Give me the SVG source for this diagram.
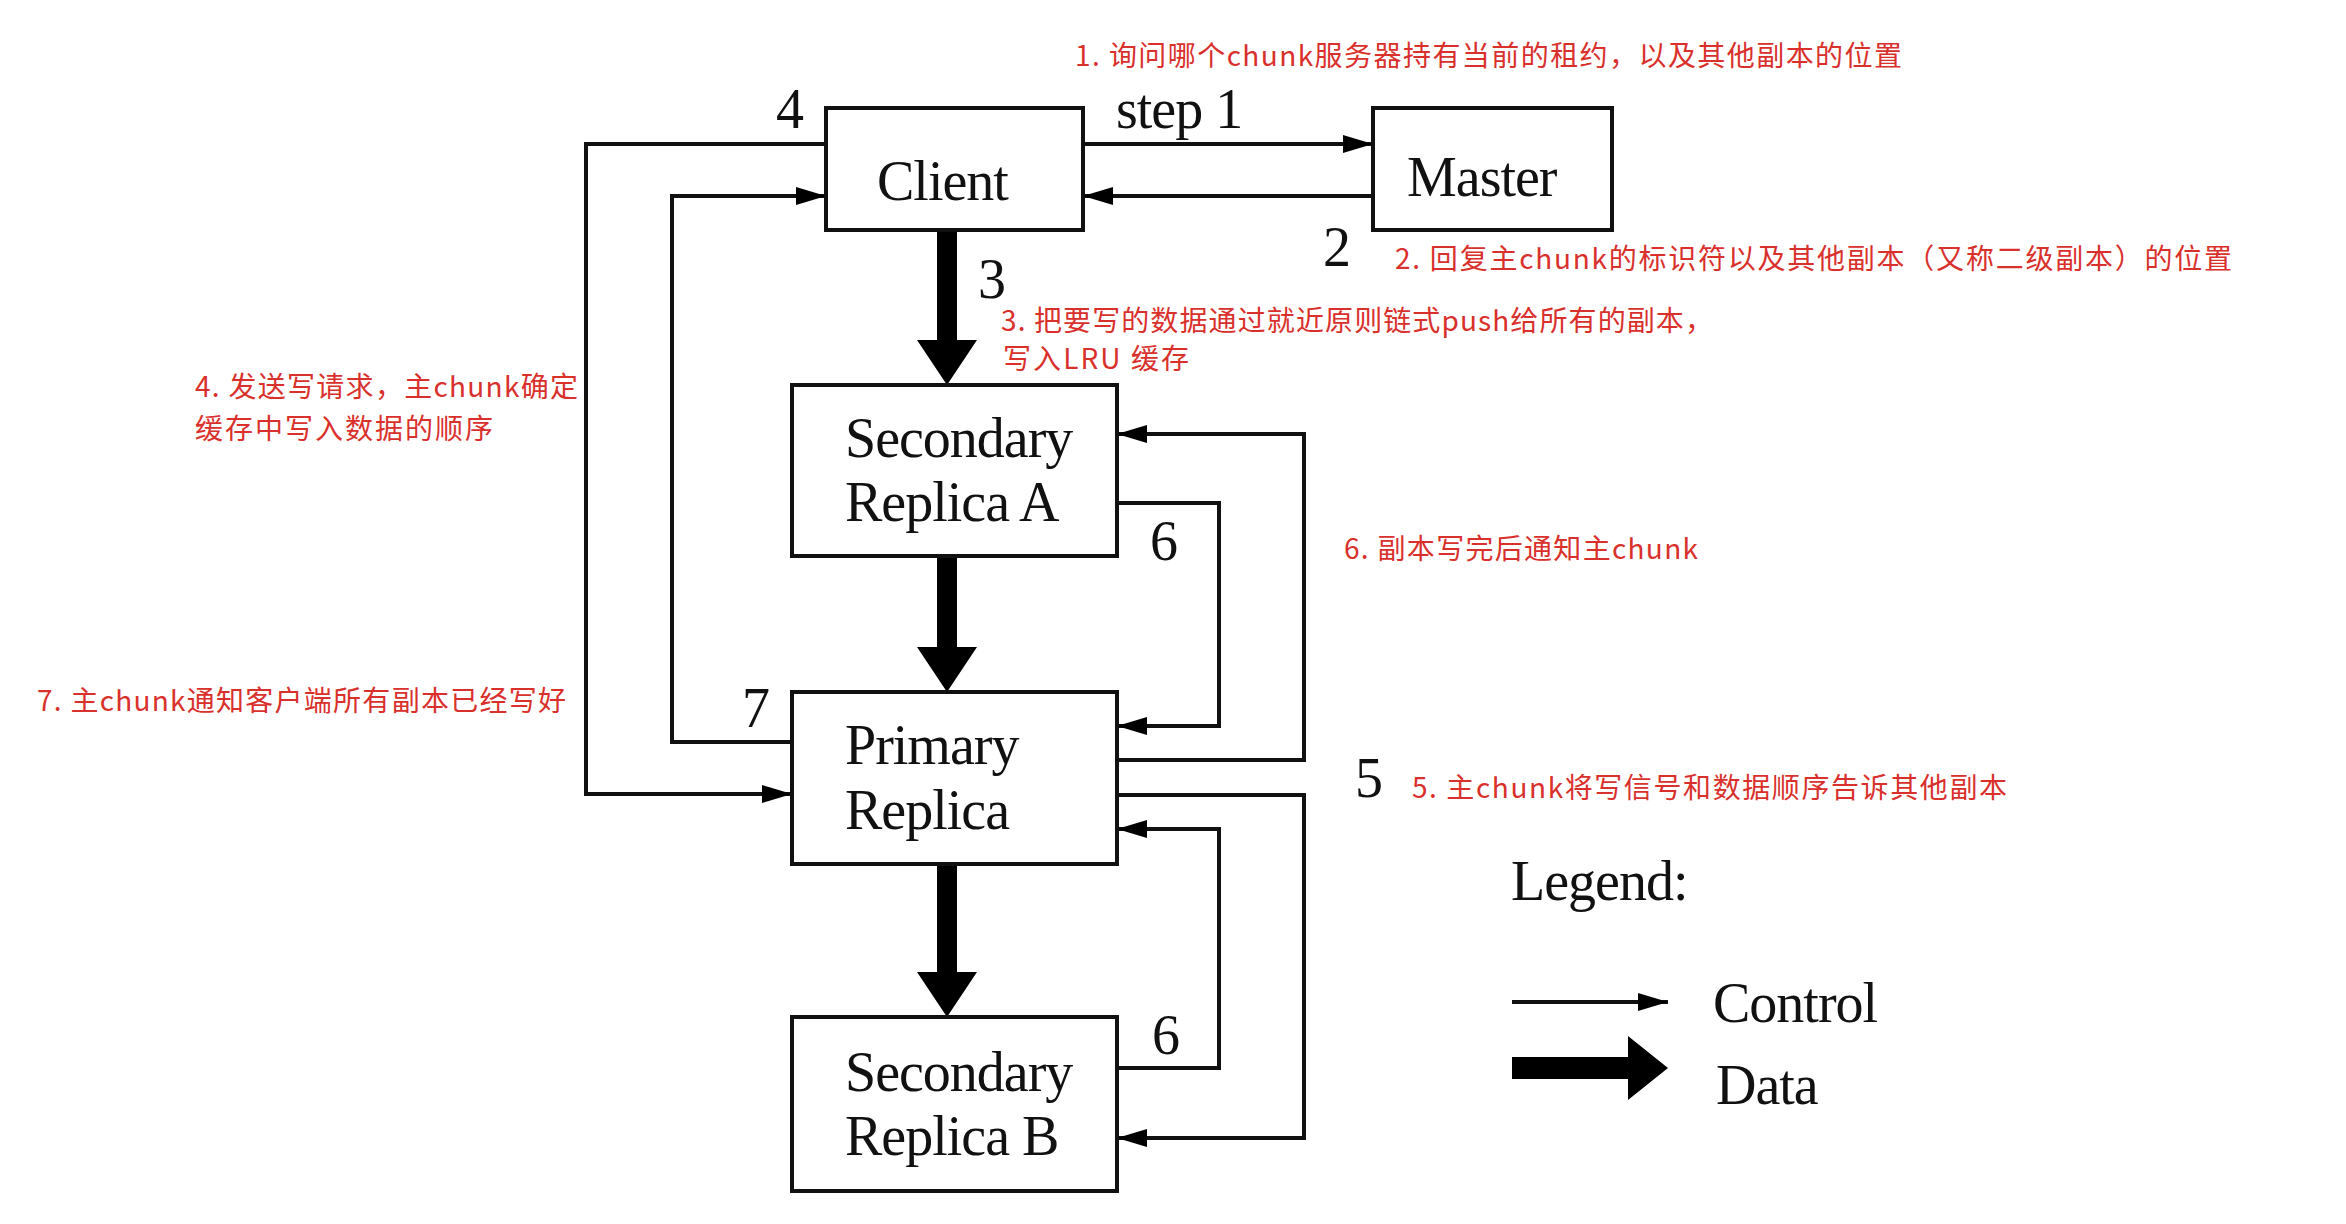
<svg xmlns="http://www.w3.org/2000/svg" width="2346" height="1224" viewBox="0 0 2346 1224">
<style>
.box{fill:#fff;stroke:#111;stroke-width:4}
.t{font-family:"Liberation Serif","Times New Roman",serif;font-size:56px;fill:#111;letter-spacing:-1px}
.c{fill:none;stroke:#111;stroke-width:4}
.d{fill:#000;stroke:none}
.r{font-family:"Noto Sans CJK SC","Noto Sans",sans-serif;font-size:28px;fill:#d9302c}
</style>
<defs>
<marker id="ah" markerUnits="userSpaceOnUse" markerWidth="32" markerHeight="20" refX="30" refY="10" orient="auto">
<path d="M0,1 L30,10 L0,19 z" fill="#000"/>
</marker>
</defs>
<rect width="2346" height="1224" fill="#fff"/>

<g id="connectors">
<path class="c" d="M1083,144 H1373" marker-end="url(#ah)"/>
<path class="c" d="M1373,196 H1083" marker-end="url(#ah)"/>
<path class="c" d="M826,144 H586 V794 H792" marker-end="url(#ah)"/>
<path class="c" d="M792,742 H672 V196 H826" marker-end="url(#ah)"/>
<path class="c" d="M1117,503 H1219 V726 H1117" marker-end="url(#ah)"/>
<path class="c" d="M1117,760 H1304 V434 H1117" marker-end="url(#ah)"/>
<path class="c" d="M1117,795 H1304 V1138 H1117" marker-end="url(#ah)"/>
<path class="c" d="M1117,1068 H1219 V829 H1117" marker-end="url(#ah)"/>
<path class="d" d="M937,230 H957 V340 H977 L947,385 L917,340 H937 Z"/>
<path class="d" d="M937,556 H957 V647 H977 L947,692 L917,647 H937 Z"/>
<path class="d" d="M937,864 H957 V972 H977 L947,1017 L917,972 H937 Z"/>
</g>

<g id="client">
<rect class="box" x="826" y="108" width="257" height="122"/>
<text class="t" x="877" y="200">Client</text>
</g>
<g id="master">
<rect class="box" x="1373" y="108" width="239" height="122"/>
<text class="t" x="1407" y="196">Master</text>
</g>
<g id="secondary-a">
<rect class="box" x="792" y="385" width="325" height="171"/>
<text class="t" x="845" y="457">Secondary</text>
<text class="t" x="845" y="521">Replica A</text>
</g>
<g id="primary">
<rect class="box" x="792" y="692" width="325" height="172"/>
<text class="t" x="845" y="764">Primary</text>
<text class="t" x="845" y="829">Replica</text>
</g>
<g id="secondary-b">
<rect class="box" x="792" y="1017" width="325" height="174"/>
<text class="t" x="845" y="1091">Secondary</text>
<text class="t" x="845" y="1155">Replica B</text>
</g>

<g id="step-labels">
<text class="t" x="1116" y="128">step 1</text>
<text class="t" x="776" y="128">4</text>
<text class="t" x="1323" y="266">2</text>
<text class="t" x="978" y="298">3</text>
<text class="t" x="1150" y="560">6</text>
<text class="t" x="742" y="727">7</text>
<text class="t" x="1355" y="797">5</text>
<text class="t" x="1152" y="1054">6</text>
</g>

<g id="legend">
<text class="t" x="1511" y="900">Legend:</text>
<path class="c" d="M1512,1002 H1668" marker-end="url(#ah)"/>
<text class="t" x="1713" y="1022">Control</text>
<path class="d" d="M1512,1057 H1628 V1036 L1668,1068 L1628,1100 V1079 H1512 Z"/>
<text class="t" x="1716" y="1104">Data</text>
</g>

<g id="annotations">
<text class="r" x="1075" y="66" textLength="827">1. 询问哪个chunk服务器持有当前的租约，以及其他副本的位置</text>
<text class="r" x="1395" y="269" textLength="837">2. 回复主chunk的标识符以及其他副本（又称二级副本）的位置</text>
<text class="r" x="1001" y="331" textLength="712">3. 把要写的数据通过就近原则链式push给所有的副本，</text>
<text class="r" x="1003" y="369" textLength="186">写入LRU 缓存</text>
<text class="r" x="195" y="397" textLength="383">4. 发送写请求，主chunk确定</text>
<text class="r" x="195" y="439" textLength="298">缓存中写入数据的顺序</text>
<text class="r" x="1344" y="559" textLength="354">6. 副本写完后通知主chunk</text>
<text class="r" x="37" y="711" textLength="529">7. 主chunk通知客户端所有副本已经写好</text>
<text class="r" x="1412" y="798" textLength="595">5. 主chunk将写信号和数据顺序告诉其他副本</text>
</g>
</svg>
